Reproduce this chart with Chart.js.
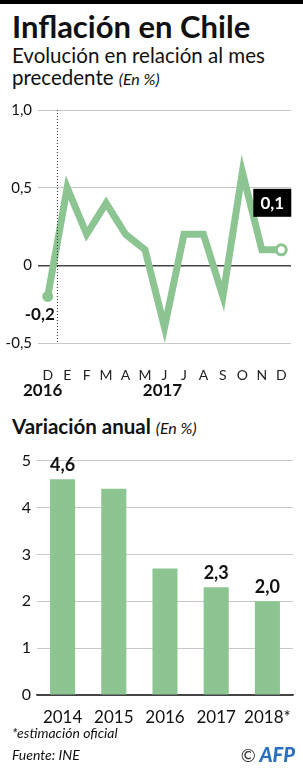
<!DOCTYPE html>
<html>
<head>
    <style>
        body, html {
            margin: 0;
            width: 303px;
            height: 768px;
            background: #fff;
            overflow: hidden;
            font-family: Lato, sans-serif;
            color: #111;
        }
        #topbar { position: absolute; left: 0; top: 0; width: 303px; height: 4px; background: #000; }
        .txt { position: absolute; left: 12px; white-space: nowrap; }
        #title { top: 7px; font-size: 31px; font-weight: 700; }
        #sub { top: 44px; font-size: 20.5px; line-height: 22px; }
        #sub2 { top: 414px; font-size: 20.5px; font-weight: 700; }
        em { font-weight: 400; font-size: 16px; }
        #note { top: 724px; font-size: 14px; font-style: italic; }
        #source { top: 746px; font-size: 14px; font-style: italic; }
        #afp { position: absolute; right: 8px; top: 742px; font-size: 20px; font-weight: 900; font-style: italic; color: #2a6fc0; }
        #afp span { color: #333; font-style: normal; font-weight: 400; font-size: 18px; }
        canvas { position: absolute; left: 0; }
        #lineChart { top: 95px; }
        #barChart { top: 445px; }
    </style>
    <script src="https://cdn.jsdelivr.net/npm/chart.js"></script>
</head>
<body>
    <div id="topbar"></div>
    <div class="txt" id="title">Inflación en Chile</div>
    <div class="txt" id="sub">Evolución en relación al mes<br>precedente <em>(En %)</em></div>
    <div class="txt" id="sub2">Variación anual <em>(En %)</em></div>
    <canvas id="lineChart" width="303" height="305"></canvas>
    <canvas id="barChart" width="303" height="285"></canvas>
    <div class="txt" id="note">*estimación oficial</div>
    <div class="txt" id="source">Fuente: INE</div>
    <div id="afp"><span>©</span> AFP</div>

    <script>
        // monthly change, Dec 2016 - Dec 2017
        const months = ["D", "E", "F", "M", "A", "M", "J", "J", "A", "S", "O", "N", "D"];
        const monthly = [-0.2, 0.5, 0.2, 0.4, 0.2, 0.1, -0.4, 0.2, 0.2, -0.2, 0.6, 0.1, 0.1];
        const yearMarks = [[0, "2016"], [6, "2017"]];

        // annual change
        const years = ["2014", "2015", "2016", "2017", "2018*"];
        const annual = [4.6, 4.4, 2.7, 2.3, 2.0];
        const annualLabelled = [0, 3, 4];

        const green = "#8cc592";
        const comma = v => String(v).replace(".", ",");

        Chart.defaults.font.family = "Lato, sans-serif";
        Chart.defaults.color = "#111";

        const lineExtras = {
            id: "lineExtras",
            afterDraw(chart) {
                const ctx = chart.ctx;
                const x = chart.scales.x, a = chart.chartArea;
                // dotted separator between 2016 and 2017
                const sx = (x.getPixelForValue(0) + x.getPixelForValue(1)) / 2;
                ctx.save();
                ctx.strokeStyle = "#333";
                ctx.lineWidth = 1;
                ctx.setLineDash([1, 2]);
                ctx.beginPath();
                ctx.moveTo(sx, a.top);
                ctx.lineTo(sx, a.bottom);
                ctx.stroke();
                ctx.setLineDash([]);
                // year labels
                ctx.font = "bold 17px Lato, sans-serif";
                ctx.fillStyle = "#111";
                ctx.textAlign = "center";
                ctx.textBaseline = "middle";
                yearMarks.forEach(([i, t]) => ctx.fillText(t, x.getPixelForValue(i) - (i === 0 ? 5 : 2), 296));
                // value labels
                const pts = chart.getDatasetMeta(0).data;
                const p0 = pts[0];
                ctx.font = "bold 17px Lato, sans-serif";
                ctx.fillText(comma(monthly[0]), p0.x - 8, p0.y + 18);
                const pl = pts[pts.length - 1];
                const t = comma(monthly[monthly.length - 1]);
                ctx.fillStyle = "#000";
                ctx.fillRect(pl.x - 28, pl.y - 61, 38, 28);
                ctx.fillStyle = "#fff";
                ctx.fillText(t, pl.x - 9, pl.y - 46);
                ctx.restore();
            }
        };

        new Chart(document.getElementById("lineChart"), {
            type: "line",
            data: {
                labels: months,
                datasets: [{
                    data: monthly,
                    borderColor: green,
                    borderWidth: 7,
                    tension: 0,
                    pointRadius: monthly.map((v, i) => i === 0 ? 4 : (i === monthly.length - 1 ? 5 : 0)),
                    pointBackgroundColor: monthly.map((v, i) => i === 0 ? green : "#fff"),
                    pointBorderColor: green,
                    pointBorderWidth: 3
                }]
            },
            options: {
                responsive: false,
                animation: false,
                layout: { padding: { top: 12, right: 10, left: 0, bottom: 0 } },
                plugins: { legend: { display: false }, tooltip: { enabled: false } },
                scales: {
                    x: {
                        offset: true,
                        grid: { display: false },
                        border: { display: false },
                        ticks: { padding: 16, font: { size: 14 }, color: "#222", autoSkip: false, maxRotation: 0 },
                        afterFit(s) { s.height = 57; }
                    },
                    y: {
                        min: -0.5, max: 1.0,
                        border: { display: false },
                        grid: {
                            drawTicks: false,
                            color: c => c.tick.value === 0 ? "#444" : "#c8c8c8",
                            lineWidth: c => c.tick.value === 0 ? 1.5 : 1
                        },
                        ticks: { stepSize: 0.5, padding: 6, font: { size: 15 }, callback: v => v === 0 ? "0" : (Number.isInteger(v) ? v + ",0" : comma(v)) },
                        afterFit(s) { s.width = 38; }
                    }
                }
            },
            plugins: [lineExtras]
        });

        const barLabels = {
            id: "barLabels",
            afterDatasetsDraw(chart) {
                const ctx = chart.ctx;
                const bars = chart.getDatasetMeta(0).data;
                ctx.save();
                ctx.font = "bold 18px Lato, sans-serif";
                ctx.fillStyle = "#111";
                ctx.textAlign = "center";
                ctx.textBaseline = "middle";
                annualLabelled.forEach(i => ctx.fillText(comma(annual[i].toFixed(1)), bars[i].x, bars[i].y - 14));
                ctx.restore();
            }
        };

        new Chart(document.getElementById("barChart"), {
            type: "bar",
            data: {
                labels: years,
                datasets: [{ data: annual, backgroundColor: green, barPercentage: 0.49, categoryPercentage: 1 }]
            },
            options: {
                responsive: false,
                animation: false,
                layout: { padding: { top: 14, right: 10, left: 0, bottom: 0 } },
                plugins: { legend: { display: false }, tooltip: { enabled: false } },
                scales: {
                    x: {
                        grid: { display: false },
                        border: { display: true, color: "#444", width: 1.5 },
                        ticks: { padding: 4, font: { size: 17 }, color: "#111", autoSkip: false, maxRotation: 0, minRotation: 0 },
                        afterFit(s) { s.height = 35; }
                    },
                    y: {
                        min: 0, max: 5,
                        border: { display: false },
                        grid: { drawTicks: false, color: c => c.tick.value === 0 ? "#444" : "#c8c8c8" },
                        ticks: { stepSize: 1, padding: 6, font: { size: 16 } },
                        afterFit(s) { s.width = 37; }
                    }
                }
            },
            plugins: [barLabels]
        });
    </script>
</body>
</html>
